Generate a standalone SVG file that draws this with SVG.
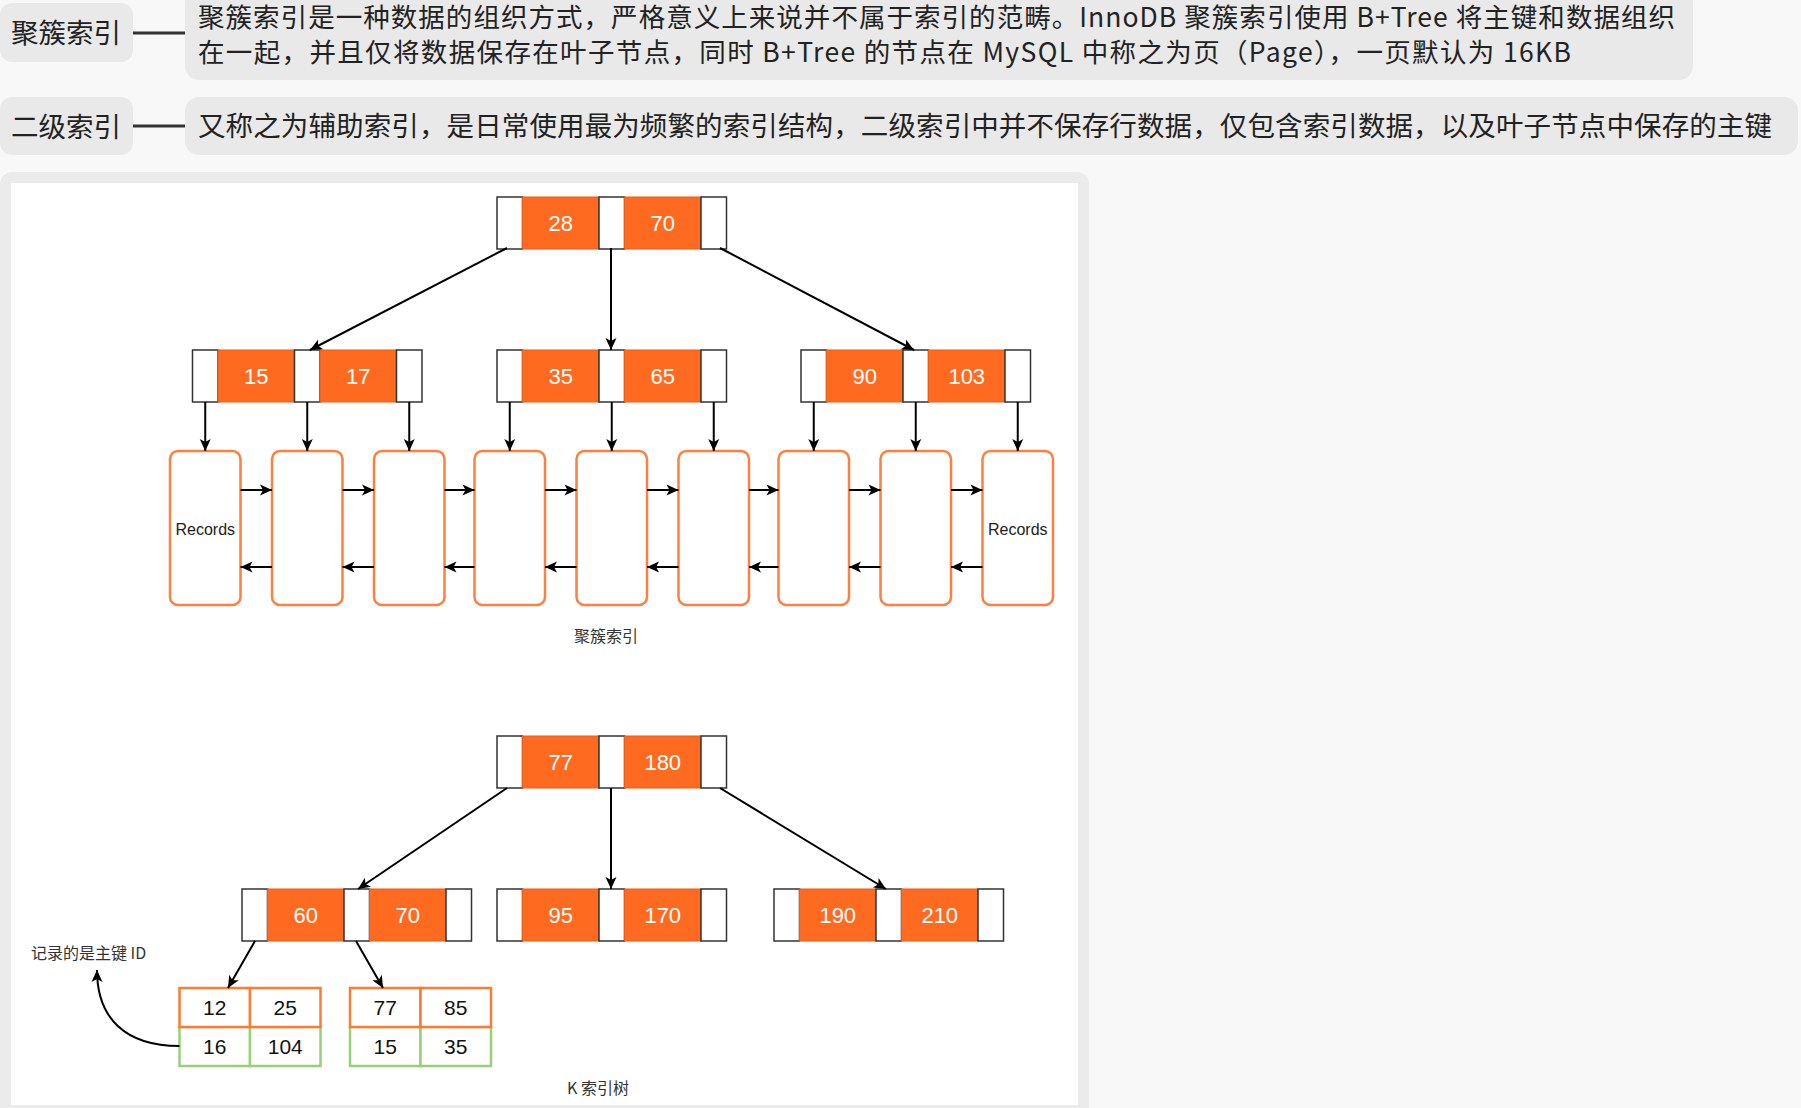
<svg xmlns="http://www.w3.org/2000/svg" xmlns:xlink="http://www.w3.org/1999/xlink" width="1801" height="1108" viewBox="0 0 1801 1108">
<style>
.bg{fill:#f8f8f8}
.tag{fill:#e9e9e9}
.tt{font-family:"Noto Sans CJK SC","Noto Sans",sans-serif;font-size:27.5px;fill:#222}
.tt2{font-family:"Noto Sans CJK SC","Noto Sans",sans-serif;font-size:26.5px;fill:#222}
.link{stroke:#333;stroke-width:3}
.w{fill:#fff;stroke:#333;stroke-width:1.5}
.o{fill:#FF6A21;stroke:#E85C1C;stroke-width:1}
.num{font-family:"Liberation Sans",Arial,sans-serif;font-size:22px;fill:#fff;text-anchor:middle}
.leaf{fill:#fff;stroke:#FF7F3F;stroke-width:2.5}
.rec{font-family:"Liberation Sans",Arial,sans-serif;font-size:16px;fill:#222;text-anchor:middle}
.edge{stroke:#000;stroke-width:2;fill:none}
.cap{font-family:"Noto Sans CJK SC","Noto Sans",sans-serif;font-size:16px;fill:#333}
.to{fill:#fff;stroke:#FF7A33;stroke-width:2.5}
.tg{fill:#fff;stroke:#97D077;stroke-width:2.5}
.tn{font-family:"Liberation Sans",Arial,sans-serif;font-size:21px;fill:#111;text-anchor:middle}
</style>
<defs>
<marker id="arr" markerWidth="15" markerHeight="13" refX="13" refY="6.5" orient="auto" markerUnits="userSpaceOnUse">
<path d="M1,1 L13,6.5 L1,12 L4,6.5 Z" fill="#000"/>
</marker>
<g id="bnode">
<rect class="w" x="0" y="0" width="25.5" height="52"/>
<rect class="o" x="25.5" y="0" width="76.5" height="52"/>
<rect class="w" x="102" y="0" width="25.5" height="52"/>
<rect class="o" x="127.5" y="0" width="76.5" height="52"/>
<rect class="w" x="204" y="0" width="25.5" height="52"/>
</g>
<rect id="leafbox" class="leaf" x="0" y="0" width="70.5" height="154" rx="8"/>
</defs>

<rect class="bg" x="0" y="0" width="1801" height="1108"/>

<!-- top descriptions -->
<g id="label1">
<rect class="tag" x="0" y="3" width="133" height="59" rx="12"/>
<text class="tt" x="66" y="43" text-anchor="middle">聚簇索引</text>
</g>
<g id="desc1">
<rect class="tag" x="185" y="-12" width="1508" height="92" rx="14"/>
<text class="tt2" x="198" y="27" textLength="1477" lengthAdjust="spacing">聚簇索引是一种数据的组织方式，严格意义上来说并不属于索引的范畴。InnoDB 聚簇索引使用 B+Tree 将主键和数据组织</text>
<text class="tt2" x="198" y="62" textLength="1373" lengthAdjust="spacing">在一起，并且仅将数据保存在叶子节点，同时 B+Tree 的节点在 MySQL 中称之为页（Page），一页默认为 16KB</text>
</g>
<g id="label2">
<rect class="tag" x="0" y="97" width="133" height="58" rx="12"/>
<text class="tt" x="66" y="136.5" text-anchor="middle">二级索引</text>
</g>
<g id="desc2">
<rect class="tag" x="185" y="97" width="1613" height="58" rx="14"/>
<text class="tt" x="198" y="136" textLength="1574" lengthAdjust="spacing">又称之为辅助索引，是日常使用最为频繁的索引结构，二级索引中并不保存行数据，仅包含索引数据，以及叶子节点中保存的主键</text>
</g>
<g id="top-links">
<line class="link" x1="133" y1="33" x2="185" y2="33"/>
<line class="link" x1="133" y1="126" x2="185" y2="126"/>
</g>

<!-- panel -->
<g id="panel">
<rect x="0" y="172" width="1089" height="950" rx="12" fill="#ebebeb"/>
<rect x="11" y="183" width="1067" height="922" fill="#fff"/>
</g>

<!-- clustered index tree -->
<g id="c-root" transform="translate(497,197)">
<use xlink:href="#bnode"/>
<text class="num" x="63.75" y="34">28</text>
<text class="num" x="165.75" y="34">70</text>
</g>
<g id="c-n1" transform="translate(192.5,350)">
<use xlink:href="#bnode"/>
<text class="num" x="63.75" y="34">15</text>
<text class="num" x="165.75" y="34">17</text>
</g>
<g id="c-n2" transform="translate(497,350)">
<use xlink:href="#bnode"/>
<text class="num" x="63.75" y="34">35</text>
<text class="num" x="165.75" y="34">65</text>
</g>
<g id="c-n3" transform="translate(801,350)">
<use xlink:href="#bnode"/>
<text class="num" x="63.75" y="34">90</text>
<text class="num" x="165.75" y="34">103</text>
</g>

<g id="leaf1" transform="translate(170,451)"><use xlink:href="#leafbox"/><text class="rec" x="35.25" y="84">Records</text></g>
<g id="leaf2" transform="translate(272,451)"><use xlink:href="#leafbox"/></g>
<g id="leaf3" transform="translate(374,451)"><use xlink:href="#leafbox"/></g>
<g id="leaf4" transform="translate(474.5,451)"><use xlink:href="#leafbox"/></g>
<g id="leaf5" transform="translate(576.5,451)"><use xlink:href="#leafbox"/></g>
<g id="leaf6" transform="translate(678.5,451)"><use xlink:href="#leafbox"/></g>
<g id="leaf7" transform="translate(778.5,451)"><use xlink:href="#leafbox"/></g>
<g id="leaf8" transform="translate(880.5,451)"><use xlink:href="#leafbox"/></g>
<g id="leaf9" transform="translate(982.5,451)"><use xlink:href="#leafbox"/><text class="rec" x="35.25" y="84">Records</text></g>

<g id="caption1"><text class="cap" x="606" y="642" text-anchor="middle">聚簇索引</text></g>

<!-- secondary index tree -->
<g id="k-root" transform="translate(497,736)">
<use xlink:href="#bnode"/>
<text class="num" x="63.75" y="34">77</text>
<text class="num" x="165.75" y="34">180</text>
</g>
<g id="k-n1" transform="translate(242,889)">
<use xlink:href="#bnode"/>
<text class="num" x="63.75" y="34">60</text>
<text class="num" x="165.75" y="34">70</text>
</g>
<g id="k-n2" transform="translate(497,889)">
<use xlink:href="#bnode"/>
<text class="num" x="63.75" y="34">95</text>
<text class="num" x="165.75" y="34">170</text>
</g>
<g id="k-n3" transform="translate(774,889)">
<use xlink:href="#bnode"/>
<text class="num" x="63.75" y="34">190</text>
<text class="num" x="165.75" y="34">210</text>
</g>

<g id="k-leaf1">
<rect class="tg" x="179.5" y="1027" width="70.5" height="39"/>
<rect class="tg" x="250" y="1027" width="70.5" height="39"/>
<rect class="to" x="179.5" y="988" width="70.5" height="39"/>
<rect class="to" x="250" y="988" width="70.5" height="39"/>
<text class="tn" x="214.75" y="1015">12</text>
<text class="tn" x="285.25" y="1015">25</text>
<text class="tn" x="214.75" y="1054">16</text>
<text class="tn" x="285.25" y="1054">104</text>
</g>
<g id="k-leaf2">
<rect class="tg" x="350" y="1027" width="70.5" height="39"/>
<rect class="tg" x="420.5" y="1027" width="70.5" height="39"/>
<rect class="to" x="350" y="988" width="70.5" height="39"/>
<rect class="to" x="420.5" y="988" width="70.5" height="39"/>
<text class="tn" x="385.25" y="1015">77</text>
<text class="tn" x="455.75" y="1015">85</text>
<text class="tn" x="385.25" y="1054">15</text>
<text class="tn" x="455.75" y="1054">35</text>
</g>

<g id="note"><text class="cap" x="31" y="959">记录的是主键 ID</text></g>
<g id="caption2"><text class="cap" x="598" y="1094" text-anchor="middle">K 索引树</text></g>

<!-- connectors -->
<g id="connectors" class="edge" marker-end="url(#arr)">
<line x1="507" y1="248" x2="310" y2="350"/>
<line x1="611" y1="248" x2="611" y2="350"/>
<line x1="720" y1="248" x2="914" y2="350"/>

<line x1="205.25" y1="402" x2="205.25" y2="451"/>
<line x1="307.25" y1="402" x2="307.25" y2="451"/>
<line x1="409.25" y1="402" x2="409.25" y2="451"/>
<line x1="509.75" y1="402" x2="509.75" y2="451"/>
<line x1="611.75" y1="402" x2="611.75" y2="451"/>
<line x1="713.75" y1="402" x2="713.75" y2="451"/>
<line x1="813.75" y1="402" x2="813.75" y2="451"/>
<line x1="915.75" y1="402" x2="915.75" y2="451"/>
<line x1="1017.75" y1="402" x2="1017.75" y2="451"/>

<line x1="240.5" y1="490" x2="272" y2="490"/>
<line x1="342.5" y1="490" x2="374" y2="490"/>
<line x1="444.5" y1="490" x2="474.5" y2="490"/>
<line x1="545" y1="490" x2="576.5" y2="490"/>
<line x1="647" y1="490" x2="678.5" y2="490"/>
<line x1="749" y1="490" x2="778.5" y2="490"/>
<line x1="849" y1="490" x2="880.5" y2="490"/>
<line x1="951" y1="490" x2="982.5" y2="490"/>

<line x1="272" y1="567" x2="240.5" y2="567"/>
<line x1="374" y1="567" x2="342.5" y2="567"/>
<line x1="474.5" y1="567" x2="444.5" y2="567"/>
<line x1="576.5" y1="567" x2="545" y2="567"/>
<line x1="678.5" y1="567" x2="647" y2="567"/>
<line x1="778.5" y1="567" x2="749" y2="567"/>
<line x1="880.5" y1="567" x2="849" y2="567"/>
<line x1="982.5" y1="567" x2="951" y2="567"/>

<line x1="507" y1="788" x2="358" y2="889"/>
<line x1="611" y1="788" x2="611" y2="889"/>
<line x1="720" y1="788" x2="886" y2="889"/>
<line x1="255" y1="941" x2="228" y2="988"/>
<line x1="356" y1="941" x2="383" y2="988"/>
<path d="M179.5,1046 C125,1046 97,1018 97,970"/>
</g>
</svg>
